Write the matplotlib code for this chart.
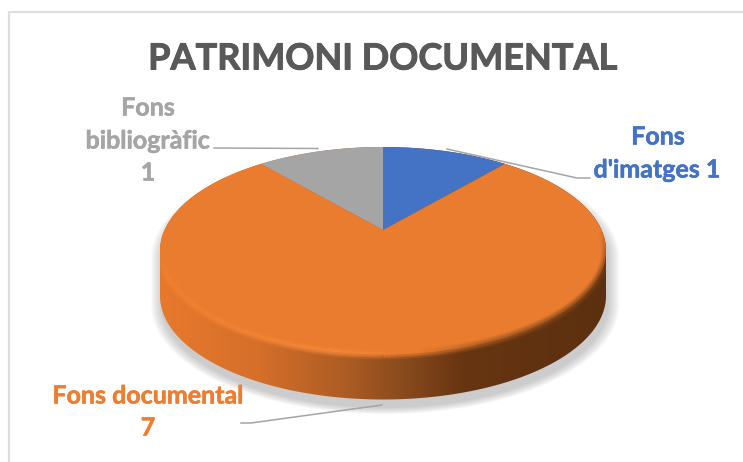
import matplotlib
matplotlib.use('Agg')
import matplotlib.pyplot as plt
import matplotlib.patheffects as pe
import numpy as np
from matplotlib.collections import LineCollection
from matplotlib.colors import LinearSegmentedColormap
from matplotlib.patches import PathPatch
from matplotlib.path import Path
from matplotlib.transforms import Transform

plt.rcParams['font.family'] = ['Lato', 'DejaVu Sans']

title = 'PATRIMONI DOCUMENTAL'
categories = ["Fons d'imatges", 'Fons documental', 'Fons bibliogràfic']
values = [1, 7, 1]
colors = ['#4472C4', '#E97C2E', '#A5A5A5']
text_colors = ['#4472C4', '#ED7D31', '#A5A5A5']

# where the disc sits in the picture, in pixels
CX, CY = 383, 230
AX_, BY, PERSP = 218.5, 99.6, 0.2
DEPTH = 45


class DiscTransform(Transform):
    # unit circle seen in perspective, the centre stays on the apex
    input_dims = output_dims = 2
    is_affine = False

    def transform_non_affine(self, values):
        u, v = np.asarray(values).T
        d = 1 + PERSP * v
        return np.column_stack([CX + AX_ * u / d, CY - BY * v / d])


face = DiscTransform()
fig = plt.figure(figsize=(7.43, 4.62), dpi=100)
ax = fig.add_axes([0, 0, 1, 1])

wedges, _ = ax.pie(values, colors=colors, startangle=90, counterclock=False)
ax.set_aspect('auto')
ax.set_xlim(0, 743)
ax.set_ylim(462, 0)
ax.axis('off')
for w in wedges:
    w.set_transform(face + ax.transData)
    w.set_zorder(5)

# outline of the whole disc with its side
t = np.linspace(0, 2 * np.pi, 721)
rim = face.transform_non_affine(np.column_stack([np.cos(t), np.sin(t)]))
mid_y = (rim[:, 1].min() + rim[:, 1].max()) / 2
top = rim[rim[:, 1] <= mid_y]
low = rim[rim[:, 1] > mid_y] + [0, DEPTH]
low = low[np.argsort(-low[:, 0])]
top = top[np.argsort(top[:, 0])]
hull = np.vstack([top, low, top[:1]])
hull_path = Path(hull, closed=True)
hull_clip = PathPatch(hull_path, transform=ax.transData)

# soft shadow
centre = np.array([383, 275])
for s in np.linspace(1.05, 1.0, 12):
    pts = centre + (hull + [2, 8] - centre) * s
    ax.add_patch(PathPatch(Path(pts, closed=True), fc='#707070', ec='none', alpha=0.03, zorder=1))

# side wall, shaded from left to right
side_cmap = LinearSegmentedColormap.from_list('side', [
    (0.0, '#E8792C'), (0.22, '#D56F2A'), (0.42, '#AC5C24'), (0.56, '#85481C'),
    (0.68, '#673512'), (1.0, '#5C300F')])
img = ax.imshow(np.linspace(0, 1, 256).reshape(1, -1), cmap=side_cmap, aspect='auto',
                extent=(160, 606, 420, 140), zorder=2, interpolation='bilinear')
img.set_clip_path(hull_clip)
ax.set_xlim(0, 743)
ax.set_ylim(462, 0)

# bevel along the front edge of the face, soft and fading at both ends
tf = np.linspace(np.pi - 0.2, 2 * np.pi + 0.2, 500)
front = face.transform_non_affine(np.column_stack([np.cos(tf), np.sin(tf)]))
segs = np.stack([front[:-1], front[1:]], axis=1)
rim_cmap = LinearSegmentedColormap.from_list('rim', [
    (0.0, '#F28334'), (0.4, '#FC8B3D'), (0.58, '#E97C2E'), (0.72, '#A85C24'), (1.0, '#7A4218')])
mids = (segs[:, :, 0].mean(axis=1) - 160) / 446
fade = np.clip((segs[:, :, 1].mean(axis=1) - (mid_y - 20)) / 45, 0, 1)
for lw, a in [(7, 0.18), (5, 0.28), (3, 0.5)]:
    seg_colors = rim_cmap(mids)
    seg_colors[:, 3] = a * fade
    lc = LineCollection(segs, colors=seg_colors, linewidths=lw, zorder=6, capstyle='butt')
    lc.set_clip_path(hull_clip)
    ax.add_collection(lc)

# chart frame
ax.plot([743, 9, 9], [12, 12, 462], color='#DEDEDE', lw=1.6, zorder=1)

heavy = [pe.withStroke(linewidth=0.7, foreground='#595959')]
ax.text(382.5, 59, title, color='#595959', fontsize=26, fontweight='bold',
        ha='center', va='center', zorder=7, path_effects=heavy)

# leader lines
ax.plot([214, 318], [148, 148.5], color='#A5A5A5', lw=1.1, zorder=7)
ax.plot([447, 577, 590], [149, 178, 178], color='#A5A5A5', lw=1.1, zorder=7)
ax.plot([382, 251, 241], [405, 423, 423], color='#A5A5A5', lw=1.1, zorder=7)


# data labels
def label(x, y, s, c):
    ax.text(x, y, s, color=c, fontsize=18, fontweight='bold', ha='center', va='center',
            zorder=8, path_effects=[pe.withStroke(linewidth=0.4, foreground=c)])


label(658, 137, 'Fons', text_colors[0])
label(657, 170, f"d'imatges {values[0]}", text_colors[0])
label(148, 108, 'Fons', text_colors[2])
label(148, 141, 'bibliogràfic', text_colors[2])
label(148, 173, str(values[2]), text_colors[2])
label(148, 396, categories[1], text_colors[1])
label(148, 428, str(values[1]), text_colors[1])

fig.savefig('out.png', dpi=100, facecolor='white')
